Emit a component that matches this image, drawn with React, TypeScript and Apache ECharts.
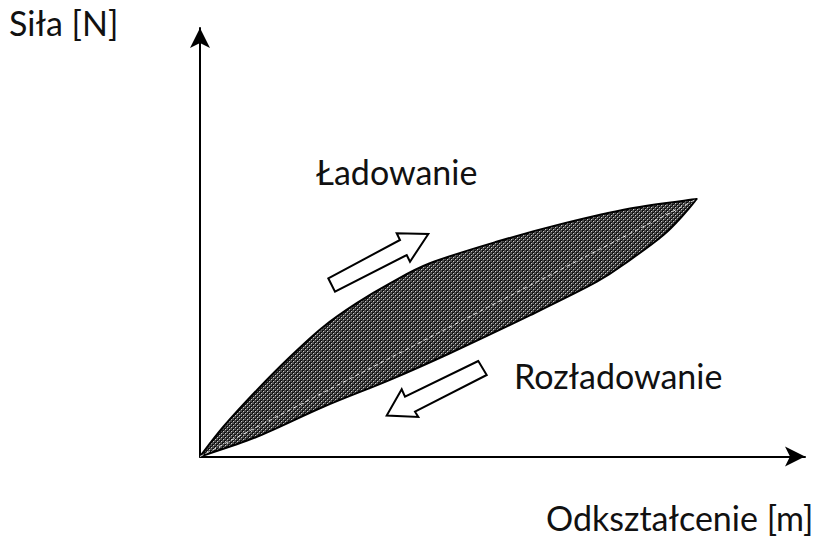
import React, { useEffect, useRef } from "react";
import * as echarts from "echarts";

// Loading (upper) branch: [deformation, force]
const loadingCurve: number[][] = [
  [0, 0], [3.9, 7.0], [9.4, 15.5], [14.9, 23.3], [20.4, 30.3], [25.9, 35.8],
  [31.4, 40.4], [38.0, 45.1], [49.0, 50.1], [60.1, 54.4], [71.1, 57.9], [82.1, 60.1],
];
// Unloading (lower) branch
const unloadingCurve: number[][] = [
  [0, 0], [9.4, 4.6], [20.4, 11.6], [31.4, 17.9], [41.3, 24.1], [54.6, 33.0],
  [65.6, 40.8], [71.1, 45.9], [76.6, 51.7], [79.9, 56.4], [82.1, 60.1],
];
const midLine: number[][] = [[0, 0], [82.1, 60.1]];

const labels = {
  yName: "Siła [N]",
  xName: "Odkształcenie [m]",
  load: "Ładowanie",
  unload: "Rozładowanie",
};

const FONT = '34px Lato, "Open Sans", sans-serif';

function makePattern(): string {
  const c = document.createElement("canvas");
  c.width = 4;
  c.height = 4;
  const ctx = c.getContext("2d")!;
  ctx.fillStyle = "#505050";
  ctx.fillRect(0, 0, 4, 4);
  ctx.fillStyle = "#111111";
  ctx.fillRect(0, 0, 1, 1);
  ctx.fillRect(1, 0, 1, 1);
  ctx.fillRect(0, 1, 1, 1);
  ctx.fillRect(2, 2, 1, 1);
  ctx.fillRect(3, 2, 1, 1);
  ctx.fillRect(2, 3, 1, 1);
  ctx.fillStyle = "#c8c8c8";
  ctx.fillRect(1, 1, 1, 1);
  ctx.fillRect(3, 3, 1, 1);
  return c.toDataURL();
}

// Catmull-Rom spline through pixel points -> cubic bezier segments
function splineSegments(pts: number[][], first: boolean): string {
  let d = first ? `M${pts[0][0]},${pts[0][1]}` : `L${pts[0][0]},${pts[0][1]}`;
  for (let i = 0; i < pts.length - 1; i++) {
    const p0 = pts[i - 1] || pts[i];
    const p1 = pts[i];
    const p2 = pts[i + 1];
    const p3 = pts[i + 2] || p2;
    const t = 1 / 6;
    const c1 = [p1[0] + (p2[0] - p0[0]) * t, p1[1] + (p2[1] - p0[1]) * t];
    const c2 = [p2[0] - (p3[0] - p1[0]) * t, p2[1] - (p3[1] - p1[1]) * t];
    d += ` C${c1[0]},${c1[1]} ${c2[0]},${c2[1]} ${p2[0]},${p2[1]}`;
  }
  return d;
}

export default function App() {
  const ref = useRef<HTMLDivElement>(null);
  useEffect(() => {
    if (!ref.current) return;
    const chart = echarts.init(ref.current, null, { renderer: "svg" });
    const patternSrc = makePattern();

    const option: any = {
      animation: false,
      backgroundColor: "#ffffff",
      grid: { left: 200, right: 18, top: 28, bottom: 82.5 },
      xAxis: {
        type: "value",
        min: 0,
        max: 100,
        axisLine: {
          show: true,
          symbol: ["none", "arrow"],
          symbolSize: [15, 20],
          lineStyle: { color: "#000", width: 2 },
        },
        axisTick: { show: false },
        axisLabel: { show: false },
        splitLine: { show: false },
      },
      yAxis: {
        type: "value",
        min: 0,
        max: 100,
        axisLine: {
          show: true,
          symbol: ["none", "arrow"],
          symbolSize: [15, 20],
          lineStyle: { color: "#000", width: 2 },
        },
        axisTick: { show: false },
        axisLabel: { show: false },
        splitLine: { show: false },
      },
      series: [
        {
          type: "custom",
          data: [0],
          z: 3,
          renderItem: (_params: any, api: any) => {
            const up = loadingCurve.map((p) => api.coord(p));
            const down = unloadingCurve.slice().reverse().map((p) => api.coord(p));
            const d = splineSegments(up, true) + " " + splineSegments(down, false) + " Z";
            return {
              type: "path",
              shape: { pathData: d },
              style: {
                fill: { image: patternSrc, repeat: "repeat" },
                stroke: "#000",
                lineWidth: 2,
                lineJoin: "round",
              },
            };
          },
        },
        {
          type: "line",
          data: midLine,
          z: 4,
          symbol: "none",
          lineStyle: { color: "#dcdcdc", width: 1, type: [4, 3] },
        },
      ],
      graphic: [
        {
          type: "text",
          left: 9,
          top: 5,
          style: { text: labels.yName, font: FONT, fill: "#111", lineHeight: 34 },
        },
        {
          type: "text",
          left: 316,
          top: 154,
          style: { text: labels.load, font: FONT, fill: "#111", lineHeight: 34 },
        },
        {
          type: "text",
          left: 514,
          top: 358,
          style: { text: labels.unload, font: FONT, fill: "#111", lineHeight: 34 },
        },
        {
          type: "text",
          left: 546,
          top: 500,
          style: { text: labels.xName, font: FONT, fill: "#111", lineHeight: 34 },
        },
        {
          type: "polygon",
          shape: {
            points: [
              [328.3, 278.3], [400, 240], [396.7, 233.3], [428.3, 234],
              [410, 261.7], [406.7, 255], [335, 291.7],
            ],
          },
          style: { fill: "#fff", stroke: "#000", lineWidth: 2, lineJoin: "miter" },
        },
        {
          type: "polygon",
          shape: {
            points: [
              [478.3, 361], [405, 396.7], [401.7, 389.3], [386.7, 415.5],
              [418.3, 417], [415, 411.7], [486.7, 375],
            ],
          },
          style: { fill: "#fff", stroke: "#000", lineWidth: 2, lineJoin: "miter" },
        },
      ],
    };
    chart.setOption(option);
    return () => chart.dispose();
  }, []);
  return <div ref={ref} style={{ width: 823, height: 539, position: "absolute", left: 0, top: 0 }} />;
}
